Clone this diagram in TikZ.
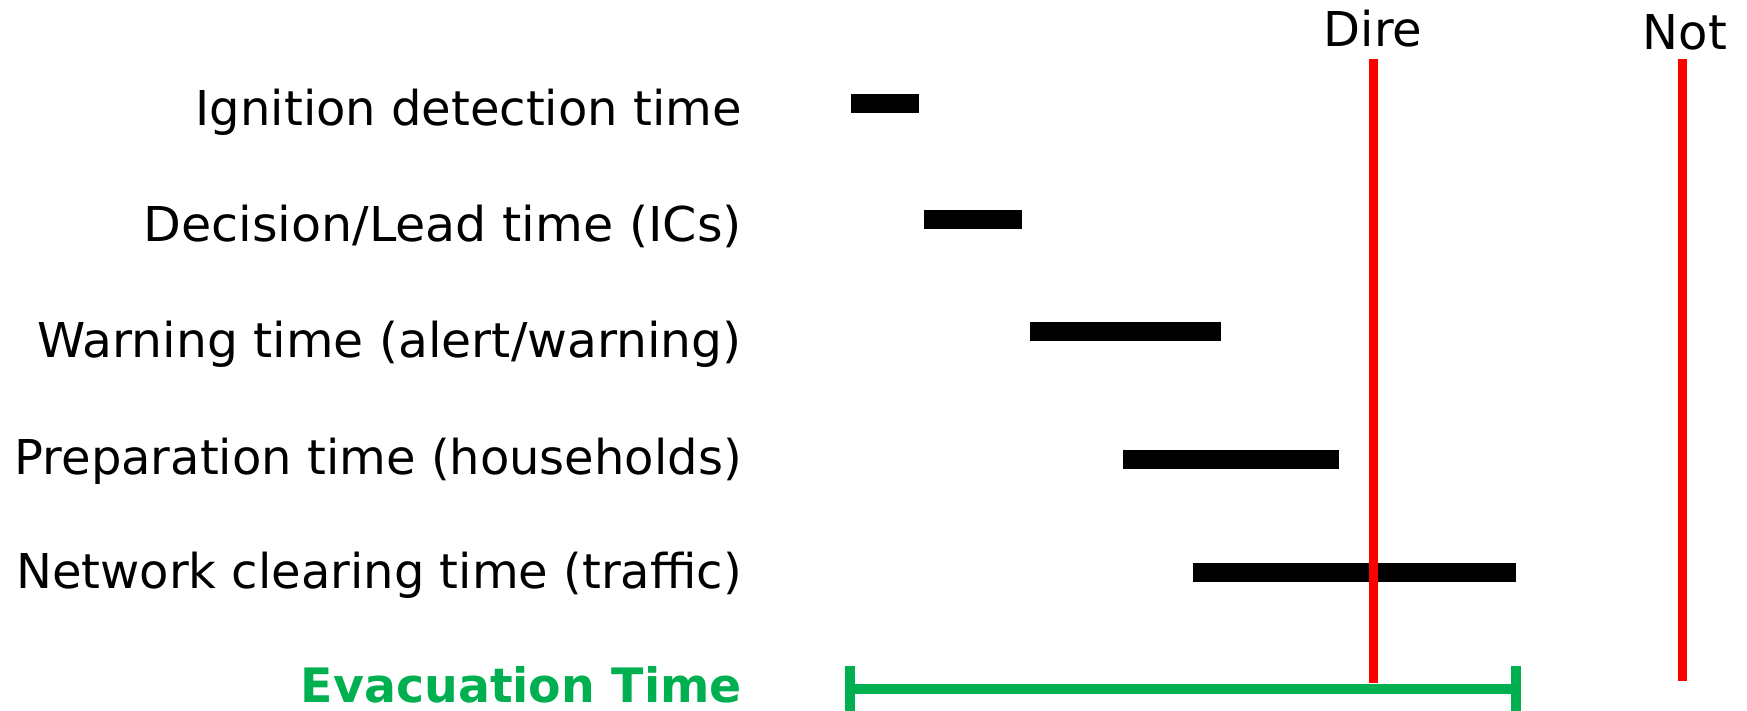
\documentclass[tikz,border=0pt]{standalone}
\usepackage{fontspec}
\setmainfont{DejaVu Sans}
\definecolor{evgreen}{RGB}{0,176,80}
\begin{document}
\begin{tikzpicture}[x=1pt,y=-1pt,
  lab/.style={anchor=base east, font=\fontsize{48}{58}\selectfont, inner sep=0pt},
  toplab/.style={anchor=base, font=\fontsize{48}{58}\selectfont, inner sep=0pt},
  phasebar/.style={line width=19pt},
  deadline/.style={draw=red, line width=9pt},
  evline/.style={draw=evgreen, line width=10pt}]
\useasboundingbox (0,0) rectangle (1747,711);
% labels
\node[lab] (l1) at (742,126) {Ignition detection time};
\node[lab] (l2) at (742,242) {\scalebox{1.023}[1]{Decision/Lead time (ICs)}};
\node[lab] (l3) at (742,357) {\scalebox{1.016}[1]{Warning time (alert/warning)}};
\node[lab] (l4) at (742,474) {Preparation time (households)};
\node[lab] (l5) at (742,588) {Network clearing time (traffic)};
\node[lab, text=evgreen, font=\fontsize{47.4}{58}\selectfont\bfseries] (l6) at (742,702) {Evacuation Time};
% bars
\coordinate (b1s) at (851,104); \coordinate (b1e) at (919,104);
\coordinate (b2s) at (924,220); \coordinate (b2e) at (1022,220);
\coordinate (b3s) at (1030,331); \coordinate (b3e) at (1221,331);
\coordinate (b4s) at (1123,459); \coordinate (b4e) at (1339,459);
\coordinate (b5s) at (1193,572); \coordinate (b5e) at (1516,572);
\draw[phasebar] (b1s) -- (b1e);
\draw[phasebar] (b2s) -- (b2e);
\draw[phasebar] (b3s) -- (b3e);
\draw[phasebar] (b4s) -- (b4e);
\draw[phasebar] (b5s) -- (b5e);
% evacuation bracket
\coordinate (e1) at (850,689); \coordinate (e2) at (1516,689);
\draw[evline] (e1) -- (e2);
\draw[evline] (850,666) -- (850,711);
\draw[evline] (1516,666) -- (1516,711);
% deadlines
\node[toplab] (dire) at (1373,47) {Dire};
\node[toplab] (not) at (1685,50) {Not};
\coordinate (d1) at (1373,59); \coordinate (d2) at (1373,683);
\coordinate (n1) at (1682,59); \coordinate (n2) at (1682,681);
\draw[deadline] (d1) -- (d2);
\draw[deadline] (n1) -- (n2);
\end{tikzpicture}
\end{document}
